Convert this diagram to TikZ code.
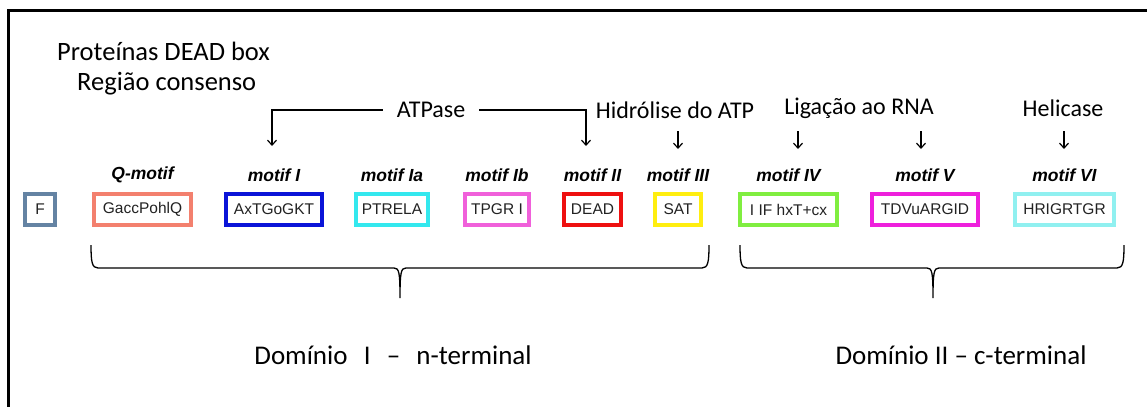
\documentclass[tikz,border=0pt]{standalone}
\usepackage{fontspec}
\setmainfont{Carlito}
\newfontfamily\arialf{Liberation Sans}
\usetikzlibrary{arrows.meta}
\definecolor{cF}{HTML}{6483A3}
\definecolor{cQ}{HTML}{F3806E}
\definecolor{cI}{HTML}{0A14D8}
\definecolor{cIa}{HTML}{33E8EE}
\definecolor{cIb}{HTML}{F060DA}
\definecolor{cII}{HTML}{EE1010}
\definecolor{cIII}{HTML}{FFEE10}
\definecolor{cIV}{HTML}{80EE40}
\definecolor{cV}{HTML}{EE20DC}
\definecolor{cVI}{HTML}{90F0F0}
\definecolor{seqtext}{HTML}{222222}
\begin{document}
\begin{tikzpicture}[x=1pt,y=-1pt,
  big/.style={font=\fontsize{24}{28}\selectfont, inner sep=0pt},
  title/.style={font=\fontsize{26.5}{30}\selectfont, inner sep=0pt},
  dom/.style={font=\fontsize{27}{30}\selectfont, inner sep=0pt},
  mlabel/.style={font=\arialf\bfseries\itshape\fontsize{17.5}{20}\selectfont, inner sep=0pt},
  mbox/.style={draw=#1, line width=4pt, minimum height=31pt, inner sep=0pt,
               font=\arialf\fontsize{15.5}{18}\selectfont, text=seqtext},
  arr/.style={-{Straight Barb[length=5pt,width=9pt]}, line width=1.2pt},
  bracestyle/.style={line width=1.3pt},
  frame/.style={line width=3pt}
]
\useasboundingbox (0,0) rectangle (1147,407);
\fill[white] (0,0) rectangle (1147,407);
\draw[frame] (1147,10) -- (8,10) -- (8,407);

% titles
\node[title, anchor=west] (t1) at (57,51) {Proteínas DEAD box};
\node[title, anchor=west] (t2) at (77,84) {Região consenso};

% function labels
\node[big, inner xsep=14pt] (atp) at (431,110) {ATPase};
\node[big] (hid) at (675,110) {Hidrólise do ATP};
\node[big] (lig) at (859,108) {Ligação ao RNA};
\node[big] (hel) at (1063,108) {Helicase};

% boxes
\node[mbox=cF, minimum width=30pt] (F) at (40,209.5) {F};
\node[mbox=cQ, minimum width=97pt] (Q) at (142.5,209.5) {GaccPohlQ};
\node[mbox=cI, minimum width=96pt] (m1) at (274,209.5) {AxTGoGKT};
\node[mbox=cIa, minimum width=72pt] (m1a) at (392,209.5) {PTRELA};
\node[mbox=cIb, minimum width=64pt] (m1b) at (497,209.5) {TPGR I};
\node[mbox=cII, minimum width=57pt] (m2) at (592.5,209.5) {DEAD};
\node[mbox=cIII, minimum width=46pt] (m3) at (678,209.5) {SAT};
\node[mbox=cIV, minimum width=97pt] (m4) at (788.5,209.5) {I IF hxT+cx};
\node[mbox=cV, minimum width=106pt] (m5) at (925,209.5) {TDVuARGID};
\node[mbox=cVI, minimum width=99pt] (m6) at (1064.5,209.5) {HRIGRTGR};

% motif labels
\node[mlabel] (lQ) at (142.5,175) {Q-motif};
\node[mlabel] (l1) at (274,175) {motif I};
\node[mlabel] (l1a) at (392,175) {motif Ia};
\node[mlabel] (l1b) at (497,175) {motif Ib};
\node[mlabel] (l2) at (592.5,175) {motif II};
\node[mlabel] (l3) at (678,175) {motif III};
\node[mlabel] (l4) at (788.5,175) {motif IV};
\node[mlabel] (l5) at (925,175) {motif V};
\node[mlabel] (l6) at (1064.5,175) {motif VI};

% ATPase bracket arrows
\coordinate (a1) at (272,146);
\coordinate (a2) at (586,146);
\draw[arr] (atp.west) -| (a1);
\draw[arr] (atp.east) -| (a2);

% small arrows
\coordinate (s1) at (678,131); \coordinate (e1) at (678,149);
\coordinate (s2) at (798,131); \coordinate (e2) at (798,149);
\coordinate (s3) at (921,131); \coordinate (e3) at (921,149);
\coordinate (s4) at (1064,131); \coordinate (e4) at (1064,149);
\draw[arr] (s1) -- (e1);
\draw[arr] (s2) -- (e2);
\draw[arr] (s3) -- (e3);
\draw[arr] (s4) -- (e4);

% braces
\draw[bracestyle] (91,245) .. controls (91,262) and (92,268) .. (98,268) -- (394,268)
  .. controls (399,268) and (400,272) .. (400,298)
  .. controls (400,272) and (401,268) .. (406,268) -- (702,268)
  .. controls (708,268) and (709,262) .. (709,245);
\draw[bracestyle] (740,245) .. controls (740,262) and (741,268) .. (747,268) -- (927,268)
  .. controls (932,268) and (933,272) .. (933,298)
  .. controls (933,272) and (934,268) .. (939,268) -- (1117,268)
  .. controls (1123,268) and (1124,262) .. (1124,245);

% domain labels
\node[dom] (d1) at (393,355) {Domínio\hspace{0.6em}I\hspace{0.6em}–\hspace{0.6em}n-terminal};
\node[dom] (d2) at (961,355) {Domínio II – c-terminal};
\end{tikzpicture}
\end{document}
